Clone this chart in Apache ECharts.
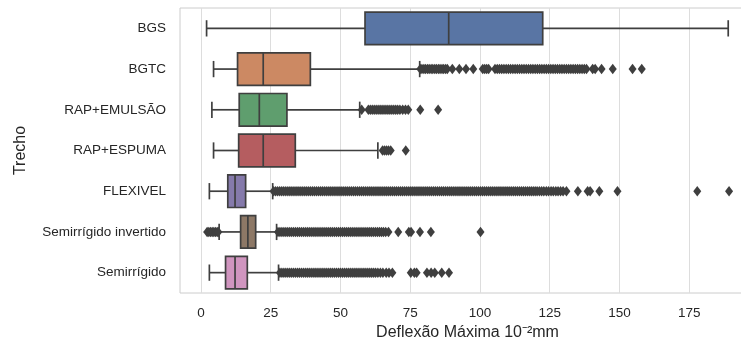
<!DOCTYPE html>
<html>
<head>
<meta charset="utf-8">
<script src="https://cdn.jsdelivr.net/npm/echarts@6/dist/echarts.min.js"></script>
<style>
  html, body { margin: 0; padding: 0; background: #fff; }
  #chart { width: 741px; height: 343px; }
</style>
</head>
<body>
<div id="chart"></div>
<script>
// Road sections (top to bottom)
const categories = ['BGS', 'BGTC', 'RAP+EMULSÃO', 'RAP+ESPUMA', 'FLEXIVEL', 'Semirrígido invertido', 'Semirrígido'];

// Box statistics per section: [lower whisker, Q1, median, Q3, upper whisker]
const boxBGS       = [2.0, 58.8, 88.8, 122.5, 189.0];
const boxBGTC      = [4.5, 13.1, 22.3, 39.2, 78.4];
const boxEmulsao   = [3.9, 13.7, 20.9, 30.8, 56.9];
const boxEspuma    = [4.5, 13.5, 22.3, 33.8, 63.4];
const boxFlexivel  = [3.0, 9.6, 12.2, 16.0, 25.7];
const boxSemiInv   = [6.5, 14.2, 16.8, 19.6, 27.1];
const boxSemi      = [3.0, 8.8, 12.2, 16.6, 27.8];

// Outliers per section
const outBGS = [];
const outBGTC = [
  78.6, 79.2, 79.9, 80.5, 81.2, 81.8, 82.5, 83.1, 83.8, 84.4, 85.1, 85.7, 86.4, 87.0, 87.7, 88.3,
  90.1, 92.6, 95.0, 97.6, 101.0, 101.7, 102.4, 103.1,
  105.4, 106.2, 107.0, 107.8, 108.6, 109.4, 110.2, 111.0, 111.8, 112.6, 113.4, 114.2, 115.0,
  115.8, 116.6, 117.4, 118.2, 119.0, 119.8, 120.6, 121.4, 122.2, 123.0, 123.8, 124.6, 125.4,
  126.2, 127.0, 127.8, 128.6, 129.4, 130.2, 131.0, 131.8, 132.6, 133.4, 134.2, 135.0, 135.8,
  136.6, 137.4, 138.2,
  140.4, 141.3, 143.6, 147.6, 154.7, 158.0];
const outEmulsao = [
  57.6, 60.0, 60.7, 61.4, 62.1, 62.8, 63.5, 64.2, 64.9, 65.6, 66.3, 67.0, 67.7, 68.4, 69.1,
  69.8, 70.5, 71.3, 72.3, 73.3, 74.3, 78.6, 85.0];
const outEspuma = [65.1, 65.8, 66.5, 67.2, 68.0, 73.4];
const outFlexivel = [
  26.0, 26.7, 27.4, 28.1, 28.8, 29.5, 30.2, 30.9, 31.6, 32.3, 33.0, 33.7, 34.4, 35.1, 35.8,
  36.5, 37.2, 37.9, 38.6, 39.3, 40.0, 40.7, 41.4, 42.1, 42.8, 43.5, 44.2, 44.9, 45.6, 46.3,
  47.0, 47.7, 48.4, 49.1, 49.8, 50.5, 51.2, 51.9, 52.6, 53.3, 54.0, 54.7, 55.4, 56.1, 56.8,
  57.5, 58.2, 58.9, 59.6, 60.3, 61.0, 61.7, 62.4, 63.1, 63.8, 64.5, 65.2, 65.9, 66.6, 67.3,
  68.0, 68.7, 69.4, 70.1, 70.8, 71.5, 72.2, 72.9, 73.6, 74.3, 75.0, 75.7, 76.4, 77.1, 77.8,
  78.5, 79.2, 79.9, 80.6, 81.3, 82.0, 82.7, 83.4, 84.1, 84.8, 85.5, 86.2, 86.9, 87.6, 88.3,
  89.0, 89.7, 90.4, 91.1, 91.8, 92.5, 93.2, 93.9, 94.6, 95.3, 96.0, 96.7, 97.4, 98.1, 98.8,
  99.5, 100.2, 100.9, 101.6, 102.3, 103.0, 103.7, 104.4, 105.1, 105.8, 106.5, 107.2, 107.9,
  108.6, 109.3, 110.0, 110.7, 111.4, 112.1, 112.8, 113.5, 114.2, 114.9, 115.6, 116.3, 117.0,
  117.7, 118.4, 119.1, 119.8, 120.5, 121.3, 122.1, 122.9, 123.8, 124.6, 125.5, 126.3, 127.2,
  128.0, 128.9, 129.8, 131.0,
  135.1, 138.6, 139.5, 142.8, 149.3, 177.9, 189.3];
const outSemiInv = [
  2.2, 2.8, 3.4, 4.0, 4.6, 5.2, 5.8, 6.2,
  27.6, 28.3, 29.0, 29.7, 30.4, 31.1, 31.8, 32.5, 33.2, 33.9, 34.6, 35.3, 36.0, 36.7, 37.4,
  38.1, 38.8, 39.5, 40.2, 40.9, 41.6, 42.3, 43.0, 43.7, 44.4, 45.1, 45.8, 46.5, 47.2, 47.9,
  48.6, 49.3, 50.0, 50.7, 51.4, 52.1, 52.8, 53.5, 54.2, 54.9, 55.6, 56.3, 57.0, 57.7, 58.4,
  59.1, 59.8, 60.5, 61.2, 61.9, 62.6, 63.3, 64.0, 64.7, 65.4, 66.2, 67.2,
  70.7, 74.5, 75.3, 78.5, 82.4, 100.2];
const outSemi = [
  28.3, 29.0, 29.7, 30.4, 31.1, 31.8, 32.5, 33.2, 33.9, 34.6, 35.3, 36.0, 36.7, 37.4, 38.1,
  38.8, 39.5, 40.2, 40.9, 41.6, 42.3, 43.0, 43.7, 44.4, 45.1, 45.8, 46.5, 47.2, 47.9, 48.6,
  49.3, 50.0, 50.7, 51.4, 52.1, 52.8, 53.5, 54.2, 54.9, 55.6, 56.3, 57.0, 57.7, 58.4, 59.1,
  59.8, 60.5, 61.2, 61.9, 62.6, 63.4, 64.3, 65.2, 66.4, 67.4, 68.6,
  75.2, 76.5, 77.3, 81.0, 82.5, 83.8, 86.3, 88.9];

// X axis tick labels
const xTicks = [0, 25, 50, 75, 100, 125, 150, 175];

const boxes = [boxBGS, boxBGTC, boxEmulsao, boxEspuma, boxFlexivel, boxSemiInv, boxSemi];
const outliers = [outBGS, outBGTC, outEmulsao, outEspuma, outFlexivel, outSemiInv, outSemi];
const boxColors = ['#5975a4', '#cc8963', '#5f9e6e', '#b55d60', '#857aab', '#8d7866', '#d095bf'];
const lineColor = '#3f3f3f';
const fontFamily = '"Liberation Sans", Arial, sans-serif';

const boxData = boxes.map((b, i) => [i].concat(b));
const outlierData = [];
outliers.forEach((list, i) => list.forEach(v => outlierData.push([v, i])));

// Box, median, whiskers and short caps, positioned through the axes
function renderBox(params, api) {
  const cat = api.value(0);
  const low = api.coord([api.value(1), cat]);
  const q1 = api.coord([api.value(2), cat]);
  const med = api.coord([api.value(3), cat]);
  const q3 = api.coord([api.value(4), cat]);
  const high = api.coord([api.value(5), cat]);
  const band = api.size([0, 1])[1];
  const h = band * 0.8;
  const cap = h / 4;
  const y = q1[1];
  const ls = { stroke: lineColor, lineWidth: 1.7 };
  return {
    type: 'group',
    children: [
      { type: 'line', shape: { x1: low[0], y1: y, x2: q1[0], y2: y }, style: ls },
      { type: 'line', shape: { x1: q3[0], y1: y, x2: high[0], y2: y }, style: ls },
      { type: 'line', shape: { x1: low[0], y1: y - cap, x2: low[0], y2: y + cap }, style: ls },
      { type: 'line', shape: { x1: high[0], y1: y - cap, x2: high[0], y2: y + cap }, style: ls },
      { type: 'rect', shape: { x: q1[0], y: y - h / 2, width: q3[0] - q1[0], height: h },
        style: { fill: boxColors[params.dataIndex], stroke: lineColor, lineWidth: 1.7 } },
      { type: 'line', shape: { x1: med[0], y1: y - h / 2, x2: med[0], y2: y + h / 2 }, style: ls }
    ]
  };
}

const chart = echarts.init(document.getElementById('chart'), null, { renderer: 'canvas' });
chart.setOption({
  animation: false,
  backgroundColor: '#ffffff',
  textStyle: { fontFamily: fontFamily },
  grid: {
    left: 180, top: 8, width: 575, height: 285,
    containLabel: false,
    outerBoundsMode: 'none',
    show: true, borderColor: '#cccccc', borderWidth: 1, backgroundColor: 'transparent'
  },
  xAxis: {
    type: 'value',
    min: -7.53, max: 198.6,
    name: 'Deflexão Máxima 10⁻²mm',
    nameLocation: 'middle',
    nameGap: 30,
    nameTextStyle: { fontSize: 16, color: '#262626', fontFamily: fontFamily },
    axisLine: { show: false },
    axisTick: { show: false, customValues: xTicks },
    axisLabel: { customValues: xTicks, fontSize: 13.5, color: '#262626', margin: 13, fontFamily: fontFamily },
    splitLine: { show: true, lineStyle: { color: '#dddddd', width: 1 } }
  },
  yAxis: {
    type: 'category',
    data: categories,
    inverse: true,
    name: 'Trecho',
    nameLocation: 'middle',
    nameGap: 151,
    nameRotate: 90,
    nameTextStyle: { fontSize: 16, color: '#262626', fontFamily: fontFamily },
    axisLine: { show: false },
    axisTick: { show: false },
    splitLine: { show: false },
    axisLabel: { fontSize: 13.5, color: '#262626', margin: 14, fontFamily: fontFamily }
  },
  series: [
    {
      type: 'custom',
      renderItem: renderBox,
      data: boxData,
      encode: { x: [1, 2, 3, 4, 5], y: 0 },
      z: 2
    },
    {
      type: 'scatter',
      data: outlierData,
      symbol: 'diamond',
      symbolSize: [8, 10.5],
      itemStyle: { color: lineColor, opacity: 1 },
      z: 3
    }
  ]
});
</script>
</body>
</html>
